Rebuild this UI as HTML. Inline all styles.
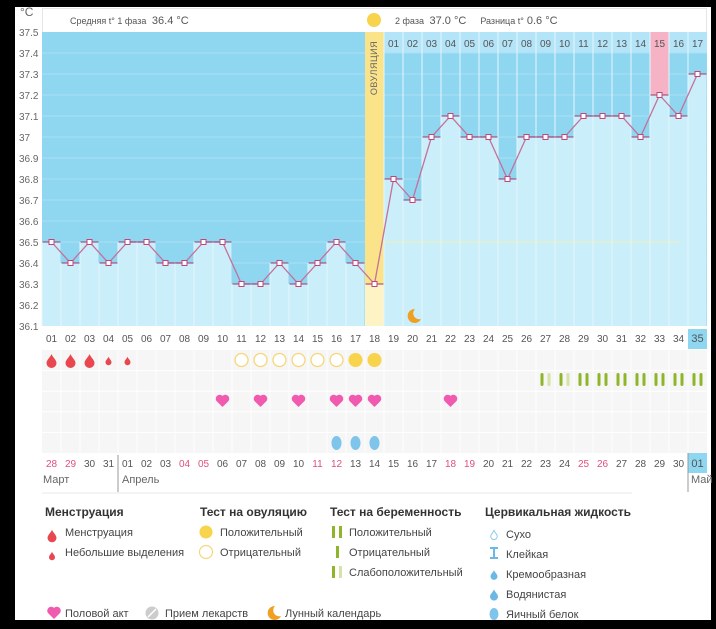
<!DOCTYPE html>
<html><head><meta charset="utf-8">
<style>
body{margin:0;background:#000;width:716px;height:629px;overflow:hidden}
svg{display:block;font-family:"Liberation Sans","DejaVu Sans",sans-serif}
.ax{font-size:10px;fill:#666}
.xl{font-size:10px;fill:#555;text-anchor:middle}
.r{fill:#e0507a}
.lh{font-size:12px;font-weight:bold;fill:#333}
.li{font-size:11px;fill:#444}
</style></head><body>
<svg id="s" width="716" height="629" viewBox="0 0 716 629">
<rect x="15" y="7" width="696" height="613" fill="#fff"/>
<g id="g"></g>
<!-- y axis -->
<text class="ax" x="20" y="16" style="font-size:12px">°C</text>
<text class="ax" x="19" y="36">37.5</text>
<text class="ax" x="19" y="57">37.4</text>
<text class="ax" x="19" y="78">37.3</text>
<text class="ax" x="19" y="99">37.2</text>
<text class="ax" x="19" y="120">37.1</text>
<text class="ax" x="19" y="141">37</text>
<text class="ax" x="19" y="162">36.9</text>
<text class="ax" x="19" y="183">36.8</text>
<text class="ax" x="19" y="204">36.7</text>
<text class="ax" x="19" y="225">36.6</text>
<text class="ax" x="19" y="246">36.5</text>
<text class="ax" x="19" y="267">36.4</text>
<text class="ax" x="19" y="288">36.3</text>
<text class="ax" x="19" y="309">36.2</text>
<text class="ax" x="19" y="330">36.1</text>
<!-- header -->
<text x="70" y="24" style="font-size:9px;fill:#555">Средняя t° 1 фаза <tspan style="font-size:11px">&#160;36.4 °C</tspan></text>
<text x="395" y="24" style="font-size:9px;fill:#555">2 фаза <tspan style="font-size:11px">&#160;37.0 °C</tspan><tspan dx="14">Разница t°</tspan><tspan style="font-size:11px">&#160;0.6 °C</tspan></text>
<text transform="translate(377,68) rotate(-90)" text-anchor="middle" style="font-size:9px;fill:#666;letter-spacing:0.5px">ОВУЛЯЦИЯ</text>
<!-- phase 2 header numbers -->
<g class="xl">
<text x="393.5" y="47">01</text><text x="412.5" y="47">02</text><text x="431.5" y="47">03</text><text x="450.5" y="47">04</text><text x="469.5" y="47">05</text><text x="488.5" y="47">06</text><text x="507.5" y="47">07</text><text x="526.5" y="47">08</text><text x="545.5" y="47">09</text><text x="564.5" y="47">10</text><text x="583.5" y="47">11</text><text x="602.5" y="47">12</text><text x="621.5" y="47">13</text><text x="640.5" y="47">14</text><text x="659.5" y="47">15</text><text x="678.5" y="47">16</text><text x="697.5" y="47">17</text>
</g>
<!-- x labels -->
<g class="xl">
<text x="51.5" y="342">01</text><text x="70.5" y="342">02</text><text x="89.5" y="342">03</text><text x="108.5" y="342">04</text><text x="127.5" y="342">05</text><text x="146.5" y="342">06</text><text x="165.5" y="342">07</text><text x="184.5" y="342">08</text><text x="203.5" y="342">09</text><text x="222.5" y="342">10</text><text x="241.5" y="342">11</text><text x="260.5" y="342">12</text><text x="279.5" y="342">13</text><text x="298.5" y="342">14</text><text x="317.5" y="342">15</text><text x="336.5" y="342">16</text><text x="355.5" y="342">17</text><text x="374.5" y="342">18</text><text x="393.5" y="342">19</text><text x="412.5" y="342">20</text><text x="431.5" y="342">21</text><text x="450.5" y="342">22</text><text x="469.5" y="342">23</text><text x="488.5" y="342">24</text><text x="507.5" y="342">25</text><text x="526.5" y="342">26</text><text x="545.5" y="342">27</text><text x="564.5" y="342">28</text><text x="583.5" y="342">29</text><text x="602.5" y="342">30</text><text x="621.5" y="342">31</text><text x="640.5" y="342">32</text><text x="659.5" y="342">33</text><text x="678.5" y="342">34</text><text x="697.5" y="342" style="font-size:11px">35</text>
</g>
<!-- dates -->
<g class="xl">
<text class="r" x="51.5" y="467">28</text><text class="r" x="70.5" y="467">29</text><text x="89.5" y="467">30</text><text x="108.5" y="467">31</text><text x="127.5" y="467">01</text><text x="146.5" y="467">02</text><text x="165.5" y="467">03</text><text class="r" x="184.5" y="467">04</text><text class="r" x="203.5" y="467">05</text><text x="222.5" y="467">06</text><text x="241.5" y="467">07</text><text x="260.5" y="467">08</text><text x="279.5" y="467">09</text><text x="298.5" y="467">10</text><text class="r" x="317.5" y="467">11</text><text class="r" x="336.5" y="467">12</text><text x="355.5" y="467">13</text><text x="374.5" y="467">14</text><text x="393.5" y="467">15</text><text x="412.5" y="467">16</text><text x="431.5" y="467">17</text><text class="r" x="450.5" y="467">18</text><text class="r" x="469.5" y="467">19</text><text x="488.5" y="467">20</text><text x="507.5" y="467">21</text><text x="526.5" y="467">22</text><text x="545.5" y="467">23</text><text x="564.5" y="467">24</text><text class="r" x="583.5" y="467">25</text><text class="r" x="602.5" y="467">26</text><text x="621.5" y="467">27</text><text x="640.5" y="467">28</text><text x="659.5" y="467">29</text><text x="678.5" y="467">30</text><text x="697.5" y="467" style="font-size:11px">01</text>
</g>
<text x="43" y="483" style="font-size:11px;fill:#666">Март</text>
<text x="122" y="483" style="font-size:11px;fill:#666">Апрель</text>
<text x="691" y="483" style="font-size:11px;fill:#666">Май</text>
<!-- legend -->
<text class="lh" x="45" y="516">Менструация</text>
<text class="li" x="65" y="536">Менструация</text>
<text class="li" x="65" y="556">Небольшие выделения</text>
<text class="lh" x="200" y="516">Тест на овуляцию</text>
<text class="li" x="220" y="536">Положительный</text>
<text class="li" x="220" y="556">Отрицательный</text>
<text class="lh" x="330" y="516">Тест на беременность</text>
<text class="li" x="349" y="536">Положительный</text>
<text class="li" x="349" y="556">Отрицательный</text>
<text class="li" x="349" y="576">Слабоположительный</text>
<text class="lh" x="485" y="516">Цервикальная жидкость</text>
<text class="li" x="506" y="538">Сухо</text>
<text class="li" x="506" y="558">Клейкая</text>
<text class="li" x="506" y="578">Кремообразная</text>
<text class="li" x="506" y="598">Водянистая</text>
<text class="li" x="506" y="618">Яичный белок</text>
<text class="li" x="65" y="617">Половой акт</text>
<text class="li" x="165" y="617">Прием лекарств</text>
<text class="li" x="285" y="617">Лунный календарь</text>
</svg>
<script>
var g=document.getElementById('g'),NS='http://www.w3.org/2000/svg';
function el(t,a){var e=document.createElementNS(NS,t);for(var k in a)e.setAttribute(k,a[k]);g.appendChild(e);return e;}
function cx(i){return 51.5+19*(i-1);}
function Y(t){return 32+(37.5-t)*210;}
var T=[36.5,36.4,36.5,36.4,36.5,36.5,36.4,36.4,36.5,36.5,36.3,36.3,36.4,36.3,36.4,36.5,36.4,36.3,36.8,36.7,37.0,37.1,37.0,37.0,36.8,37.0,37.0,37.0,37.1,37.1,37.1,37.0,37.2,37.1,37.3];
// header box
el('rect',{x:42.5,y:8.5,width:664,height:24,fill:'#fff',stroke:'#e6e6e6'});
// background plot
el('rect',{x:42,y:32,width:665,height:294,fill:'#8fd6f1'});
el('rect',{x:384,y:32,width:323,height:21,fill:'#b3e4f7'});
// gridlines
for(var k=1;k<14;k++){el('line',{x1:42,x2:707,y1:32+21*k,y2:32+21*k,stroke:'#a9e0f4','stroke-width':1});}
for(var i=1;i<=35;i++){
 var x=42+19*(i-1);
 if(i==18){el('rect',{x:x,y:32,width:19,height:294,fill:'#fbe38a'});el('rect',{x:x,y:Y(T[17]),width:19,height:326-Y(T[17]),fill:'#fdf3c4'});continue;}
 if(i==33){el('rect',{x:x,y:32,width:19,height:Y(T[32])-32,fill:'#f7b3c6'});}
 el('rect',{x:x+0.5,y:Y(T[i-1]),width:18,height:326-Y(T[i-1]),fill:'#cbeefb'});
 el('line',{x1:x,x2:x,y1:i>18?32:Y(T[i-1]),y2:326,stroke:'#e6f7fd','stroke-width':1});
}
el('line',{x1:384,x2:680,y1:242,y2:242,stroke:'#f3efb0','stroke-width':1});
// sun
el('circle',{cx:374,cy:20,r:7,fill:'#f8d34c'});
// line
var p='';for(var i=1;i<=35;i++)p+=(i==1?'M':'L')+cx(i)+','+Y(T[i-1]);
el('path',{d:p,fill:'none',stroke:'#c5709a','stroke-width':1.3});
for(var i=1;i<=35;i++){var y=Y(T[i-1]);el('line',{x1:cx(i)-9,x2:cx(i)+9,y1:y,y2:y,stroke:'#9b3a6a','stroke-width':1});
 el('rect',{x:cx(i)-2.5,y:y-2.5,width:5,height:5,fill:'#fff',stroke:'#c0457a','stroke-width':1});}
// moon
el('path',{d:'M415,309 a7,7 0 1 0 6,10 a6,6 0 0 1 -6,-10z',fill:'#f0a020'});
// x label highlight col35
el('rect',{x:688,y:329,width:19,height:20,fill:'#8fd6f1'});
el('rect',{x:688,y:453,width:19,height:20,fill:'#8fd6f1'});
// rows grid
el('rect',{x:42,y:350,width:665,height:103,fill:'#f6f6f6'});
for(var i=1;i<35;i++)el('line',{x1:42+19*i,x2:42+19*i,y1:350,y2:453,stroke:'#fff'});
for(var k=1;k<5;k++)el('line',{x1:42,x2:707,y1:350+20.6*k,y2:350+20.6*k,stroke:'#fff'});
// move highlight rects behind text: reorder
function drop(x,y,s,c){el('path',{d:'M'+x+','+(y-7*s)+' C'+(x+1*s)+','+(y-4*s)+' '+(x+5*s)+','+(y-1*s)+' '+(x+5*s)+','+(y+2*s)+' A'+5*s+','+5*s+' 0 0 1 '+(x-5*s)+','+(y+2*s)+' C'+(x-5*s)+','+(y-1*s)+' '+(x-1*s)+','+(y-4*s)+' '+x+','+(y-7*s)+'z',fill:c||'#e8474f'});}
function heart(x,y,c){el('path',{d:'M'+x+','+(y+6)+' L'+(x-5.5)+','+(y+0.5)+' A3,3 0 0 1 '+x+','+(y-3)+' A3,3 0 0 1 '+(x+5.5)+','+(y+0.5)+'z',fill:c||'#f05aaf',stroke:c||'#f05aaf','stroke-width':1.5,'stroke-linejoin':'round'});}
[1,2,3].forEach(function(i){drop(cx(i),361,1);});[4,5].forEach(function(i){drop(cx(i),361,0.6);});
[11,12,13,14,15,16].forEach(function(i){el('circle',{cx:cx(i),cy:360,r:6.5,fill:'#fff',stroke:'#f5d77a','stroke-width':1.3});});
[17,18].forEach(function(i){el('circle',{cx:cx(i),cy:360,r:7,fill:'#f8d34c'});});
for(var i=27;i<=35;i++){var weak=(i==27||i==28);
 el('rect',{x:cx(i)-5,y:373,width:3,height:13,rx:1.5,fill:'#8fb52a'});
 el('rect',{x:cx(i)+2,y:373,width:3,height:13,rx:1.5,fill:weak?'#d4e3a6':'#8fb52a'});}
[10,12,14,16,17,18,22].forEach(function(i){heart(cx(i),400);});
[16,17,18].forEach(function(i){el('ellipse',{cx:cx(i),cy:443,rx:5,ry:7,fill:'#7fc4ea'});});
// date separators
el('line',{x1:118,x2:118,y1:455,y2:492,stroke:'#999'});
el('line',{x1:688,x2:688,y1:453,y2:492,stroke:'#999'});
el('line',{x1:42,x2:632,y1:493,y2:493,stroke:'#e8e8e8'});
// legend icons
drop(52,536,0.9);drop(52,556,0.6);
el('circle',{cx:206,cy:532,r:6.5,fill:'#f8d34c'});
el('circle',{cx:206,cy:552,r:6.5,fill:'#fff',stroke:'#f5d77a','stroke-width':1.2});
el('rect',{x:332,y:526,width:3,height:12,fill:'#8fb52a'});el('rect',{x:339,y:526,width:3,height:12,fill:'#8fb52a'});
el('rect',{x:336,y:546,width:3,height:12,fill:'#8fb52a'});
el('rect',{x:332,y:566,width:3,height:12,fill:'#8fb52a'});el('rect',{x:339,y:566,width:3,height:12,fill:'#d4e3a6'});
drop(494,535,0.65,'#fff');g.lastChild.setAttribute('stroke','#8ccbea');
el('path',{d:'M490,548 h8 M494,548 v10 M490,558 h8',stroke:'#6ab8e3','stroke-width':2});
drop(494,575,0.7,'#6ab8e3');drop(494,595,0.8,'#6ab8e3');
el('ellipse',{cx:494,cy:614,rx:4.5,ry:6,fill:'#7fc4ea'});
heart(54,612);
el('circle',{cx:152,cy:613,r:6.5,fill:'#ccc'});el('line',{x1:148,y1:617,x2:156,y2:609,stroke:'#fff','stroke-width':1.5});
el('path',{d:'M275,606 a7,7 0 1 0 6,10 a6,6 0 0 1 -6,-10z',fill:'#f0a020'});
// move g to proper order: put col-35 highlight rects before texts already (g is first), fine
</script>
</body></html>
